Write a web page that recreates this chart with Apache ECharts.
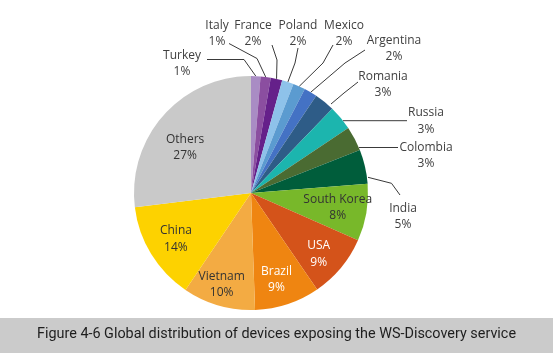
<!DOCTYPE html>
<html><head><meta charset="utf-8">
<script src="https://cdn.jsdelivr.net/npm/echarts@6/dist/echarts.min.js"></script>
<style>html,body{margin:0;padding:0;background:#fff}#c{width:553px;height:364px}</style>
</head><body><div id="c"></div>
<script>
// ---- data ----
const countries = ['Turkey','Italy','France','Poland','Mexico','Argentina','Romania','Russia','Colombia','India','South Korea','USA','Brazil','Vietnam','China','Others'];
const shares = [1.3, 1.4, 1.6, 1.6, 1.7, 1.8, 2.8, 3.4, 3.4, 4.7, 7.9, 8.8, 9.0, 10.0, 13.6, 26.9];
const insideLabelled = ['South Korea','USA','Brazil','Vietnam','China','Others'];
const whiteLabelled = ['USA','Brazil'];
const caption = 'Figure 4-6 Global distribution of devices exposing the WS-Discovery service';

// ---- styles / layout ----
const sliceColors = ['#a98cc4','#8b4ea0','#65208a','#8ec2ea','#5b9bd0','#4472c4','#2e5c87','#1cb5ae','#4a6b32','#005d3b','#78b82a','#d4531a','#ef8511','#f3ab43','#fdd200','#c9c9c9'];
const outsideLayout = {
  'Turkey':    {text:[182,63.5],  bend:[244,59.5],  end:[207,59.5]},
  'Italy':     {text:[217,33.5],  bend:[257,58.5],  end:[229,43.5]},
  'France':    {text:[253,33.5],  bend:[277,60],    end:[272,45]},
  'Poland':    {text:[298,33.5],  bend:[295,63],    end:[298,48]},
  'Mexico':    {text:[344,33.5],  bend:[323,63],    end:[333,45]},
  'Argentina': {text:[394,48.5],  bend:[345,63],    end:[365,50]},
  'Romania':   {text:[383,84.5],  start:[331,104], bend:[344,93], end:[358,82]},
  'Russia':    {text:[426,121],   start:[343,120.7], bend:[343,120.7], end:[407,120.7]},
  'Colombia':  {text:[426,155.5], start:[359,147.5], bend:[359,147.5], end:[398,147.5]},
  'India':     {text:[403,216.5], start:[368,177.3], bend:[391.5,183.3], end:[400,195]}
};
const innerNudge = {'Others':[0,13], 'Vietnam':[-5,7], 'USA':[0,5], 'Brazil':[-2,3]};
const CX = 251, CY = 193, R = 117;
const labelFont = {fontFamily:'Open Sans', fontSize:12, lineHeight:16.5, color:'#404040'};

const chart = echarts.init(document.getElementById('c'), null, {renderer:'canvas'});
const fmt = p => p.name + '\n' + Math.round(p.value) + '%';

chart.setOption({
  backgroundColor:'#ffffff',
  animation:false,
  title:{
    text: caption, left:'center', top:327, padding:0,
    textStyle:{fontFamily:'Roboto', fontSize:14.4, fontWeight:'normal', color:'#1e1e1e'}
  },
  graphic:[{type:'rect', z:-1, shape:{x:0, y:318, width:553, height:35}, style:{fill:'#cbcbcb'}}],
  series:[
    {
      type:'pie', center:[CX,CY], radius:[0,R], startAngle:90, clockwise:true,
      avoidLabelOverlap:false, silent:true,
      itemStyle:{borderWidth:0},
      label:Object.assign({show:true, position:'outside', formatter:fmt, align:'center'}, labelFont),
      labelLine:{show:true, length:10, length2:10, lineStyle:{color:'#3a3a3a', width:1}},
      labelLayout: function(p){
        const L = outsideLayout[countries[p.dataIndex]];
        if (!L) return {};
        const start = L.start || (p.labelLinePoints ? p.labelLinePoints[0] : L.bend);
        return {x:L.text[0], y:L.text[1], align:'center', verticalAlign:'middle',
                labelLinePoints:[start.slice(), L.bend.slice(), L.end.slice()]};
      },
      data: countries.map((n,i)=>({
        name:n, value:shares[i], itemStyle:{color:sliceColors[i]},
        label:{show: !insideLabelled.includes(n)},
        labelLine:{show: !insideLabelled.includes(n)}
      }))
    },
    {
      type:'pie', center:[CX,CY], radius:[53,R], startAngle:90, clockwise:true,
      silent:true, avoidLabelOverlap:false,
      itemStyle:{color:'transparent', borderWidth:0},
      label:Object.assign({position:'inside', formatter:fmt, align:'center'}, labelFont),
      labelLine:{show:false},
      labelLayout: function(p){
        const d = innerNudge[countries[p.dataIndex]];
        return d ? {dx:d[0], dy:d[1]} : {};
      },
      data: countries.map((n,i)=>({
        name:n, value:shares[i],
        label:{show: insideLabelled.includes(n), color: whiteLabelled.includes(n) ? '#ffffff' : '#333333'}
      }))
    }
  ]
});
</script></body></html>
